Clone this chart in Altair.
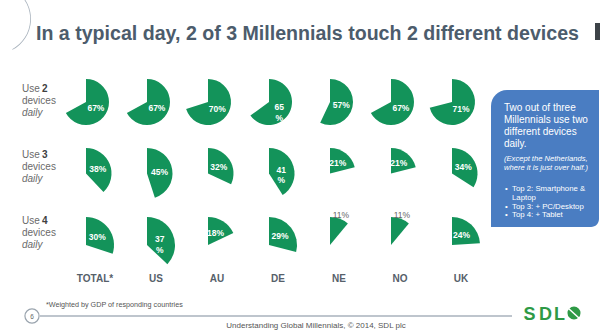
import math
import altair as alt
import pandas as pd

# ---------------- data ----------------
countries = ["TOTAL*", "US", "AU", "DE", "NE", "NO", "UK"]
rows = ["2", "3", "4"]
use2 = [67, 67, 70, 65, 57, 67, 71]
use3 = [38, 45, 32, 41, 21, 21, 34]
use4 = [30, 37, 18, 29, 11, 11, 24]
wrapped = [("2", "DE"), ("3", "DE"), ("4", "US")]

title = "In a typical day, 2 of 3 Millennials touch 2 different devices"
box_main = ["Two out of three", "Millennials use two", "different devices", "daily."]
box_note = ["(Except  the Netherlands,", "where it is just over half.)"]
box_bullets = [("Top 2: Smartphone &", "Laptop"), ("Top 3: + PC/Desktop", None), ("Top 4: + Tablet", None)]
footnote = "*Weighted by GDP of responding countries"
footer = "Understanding Global Millennials, \u00a9 2014, SDL plc"

# ---------------- styles ----------------
GREEN = "#13935a"
BLUE = "#4a7dc2"
TITLE_C = "#4c5c6c"
GRAY = "#6a6a6a"
LOGO = "#2e9a46"
FONT = "Liberation Sans"
RADIUS = {"2": 23, "3": 25.5, "4": 28}

records = []
for row, vals in zip(rows, [use2, use3, use4]):
    for c, v in zip(countries, vals):
        label = f"{v}\n%" if (row, c) in wrapped else f"{v}%"
        records.append({"row": row, "country": c, "value": v, "label": label})
df = pd.DataFrame(records)

X = alt.X("country:N", scale=alt.Scale(type="point", domain=countries, range=[86, 452], padding=0), axis=None)
Y = alt.Y("row:N", scale=alt.Scale(type="point", domain=rows, range=[102, 245], padding=0), axis=None)
TH = alt.Scale(domain=[0, 100], range=[0, 2 * math.pi])

base = alt.Chart(df)
layers = []
for row in rows:
    sub = base.transform_filter(alt.datum.row == row)
    r = RADIUS[row]
    layers.append(
        sub.mark_arc(radius=r, color=GREEN).encode(
            x=X, y=Y, theta=alt.Theta("value:Q", scale=TH, stack=None)
        )
    )
    layers.append(
        sub.transform_filter(alt.datum.value >= 15)
        .transform_calculate(mid="datum.value / 2")
        .mark_text(radius=r * 0.5, color="white", fontSize=8.5, fontWeight="bold",
                   font=FONT, lineBreak="\n", align="center", baseline="middle")
        .encode(x=X, y=Y, theta=alt.Theta("mid:Q", scale=TH, stack=None), text="label:N")
    )
    layers.append(
        sub.transform_filter(alt.datum.value < 15)
        .transform_calculate(mid="datum.value / 2")
        .mark_text(radius=r + 4, color="#666666", fontSize=8.5,
                   font=FONT, align="center", baseline="middle")
        .encode(x=X, y=Y, theta=alt.Theta("mid:Q", scale=TH, stack=None), text="label:N")
    )

# row labels
rows_df = pd.DataFrame({"row": rows})
YR = alt.Y("row:N", scale=alt.Scale(type="point", domain=rows, range=[101, 233], padding=0), axis=None)
rl = alt.Chart(rows_df)
layers.append(rl.mark_text(text="Use", dy=-12, fontSize=10, color=GRAY, font=FONT, align="left", baseline="middle").encode(x=alt.value(22), y=YR))
layers.append(rl.mark_text(dy=-12, fontSize=10, color="#404040", fontWeight="bold", font=FONT, align="left", baseline="middle").encode(x=alt.value(42), y=YR, text="row:N"))
layers.append(rl.mark_text(text="devices", fontSize=10, color=GRAY, font=FONT, align="left", baseline="middle").encode(x=alt.value(22), y=YR))
layers.append(rl.mark_text(text="daily", dy=12, fontSize=10, color=GRAY, fontStyle="italic", font=FONT, align="left", baseline="middle").encode(x=alt.value(22), y=YR))

# column labels
cols_df = pd.DataFrame({"country": countries})
layers.append(
    alt.Chart(cols_df).mark_text(dx=9, fontSize=10, fontWeight="bold", color="#56606a", font=FONT, align="center", baseline="middle")
    .encode(x=X, y=alt.value(279), text="country:N")
)

# ---------------- annotations ----------------
one = pd.DataFrame({"k": [0]})
ann = alt.Chart(one)

def txt(text, x, y, size, color, weight="normal", style="normal", align="left", baseline="middle"):
    return ann.mark_text(text=text, fontSize=size, color=color, fontWeight=weight, fontStyle=style,
                         align=align, baseline=baseline, font=FONT).encode(x=alt.value(x), y=alt.value(y))

# decorative arc top-left
layers.append(ann.mark_arc(radius=35, radius2=34.2, theta=0.6, theta2=2.65, color="#a9b3bd").encode(x=alt.value(-4), y=alt.value(19)))
# dark block top-right
layers.append(ann.mark_rect(color="#3d4348").encode(x=alt.value(595), x2=alt.value(600), y=alt.value(23), y2=alt.value(40)))
# title
layers.append(txt(title, 36, 40, 19.6, TITLE_C, weight="bold", baseline="alphabetic"))

# blue box
layers.append(ann.mark_rect(color=BLUE, cornerRadiusTopLeft=16, cornerRadiusBottomRight=8)
              .encode(x=alt.value(491), x2=alt.value(599), y=alt.value(90), y2=alt.value(227)))
for i, line in enumerate(box_main):
    layers.append(txt(line, 504, 108 + i * 12, 10, "white"))
for i, line in enumerate(box_note):
    layers.append(txt(line, 504, 159 + i * 8.5, 7.6, "white", style="italic"))
by = 189
for main, cont in box_bullets:
    layers.append(txt("\u2022", 505, by, 7.8, "white"))
    layers.append(txt(main, 512, by, 7.8, "white"))
    by += 8.5
    if cont:
        layers.append(txt(cont, 512, by, 7.8, "white"))
        by += 9

# footer
layers.append(txt(footnote, 46, 305, 7.2, "#555555"))
layers.append(ann.mark_rule(color="#a9b2bc", strokeWidth=1.5).encode(x=alt.value(40), x2=alt.value(512), y=alt.value(316)))
layers.append(ann.mark_point(shape="circle", size=200, filled=True, color="white", stroke="#9aa4ae", strokeWidth=1.2, opacity=1)
              .encode(x=alt.value(32), y=alt.value(316)))
layers.append(txt("6", 32, 316.5, 6.5, "#666666", align="center"))
layers.append(txt(footer, 316, 326, 8, "#555555", align="center"))
# SDL logo
layers.append(txt("S", 529.5, 314.5, 18, LOGO, weight="bold", align="center"))
layers.append(txt("D", 545.5, 314.5, 18, LOGO, weight="bold", align="center"))
layers.append(txt("L", 559.5, 314.5, 18, LOGO, weight="bold", align="center"))
layers.append(ann.mark_point(shape="circle", size=170, filled=True, color=LOGO, opacity=1).encode(x=alt.value(574), y=alt.value(313)))
layers.append(ann.mark_rule(color="white", strokeWidth=1.5).encode(x=alt.value(568), x2=alt.value(580), y=alt.value(308), y2=alt.value(319)))

chart = (
    alt.layer(*layers)
    .resolve_scale(y="independent")
    .properties(width=600, height=331, padding=0, autosize=alt.AutoSizeParams(type="none"), background="white")
    .configure_view(stroke=None)
)

chart.save("out.html", embed_options={"renderer": "svg", "actions": False})
